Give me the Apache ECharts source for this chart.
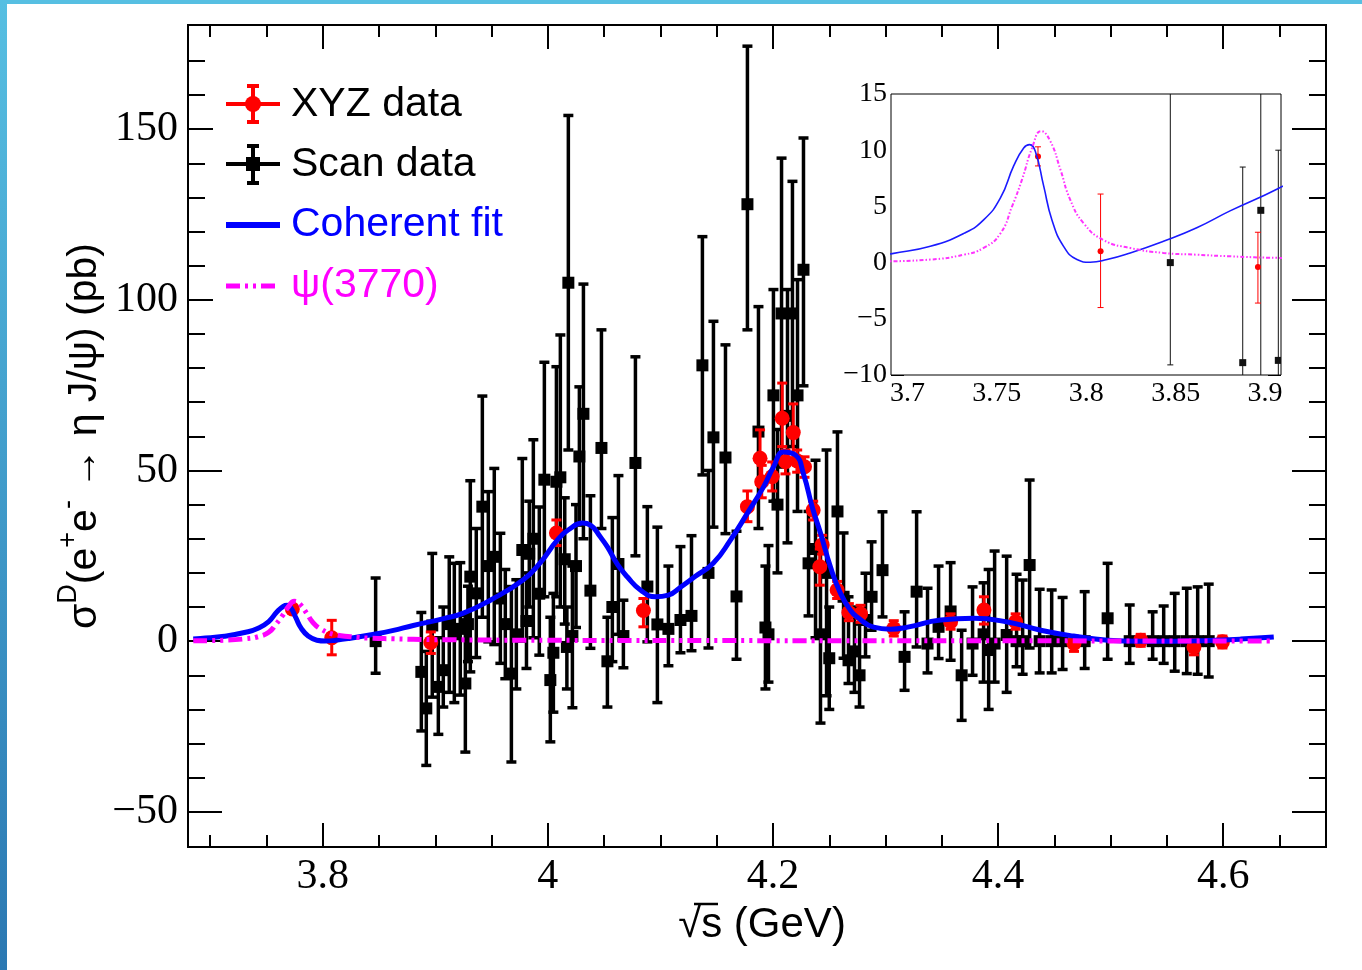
<!DOCTYPE html>
<html><head><meta charset="utf-8">
<script src="https://cdn.jsdelivr.net/npm/echarts@6/dist/echarts.min.js"></script>
<style>html,body{margin:0;padding:0;background:#fff;}#c{width:1362px;height:970px;}</style>
</head><body><div id="c"></div>
<script>
// ---------- data ----------
const xTickMain = [3.8, 4.0, 4.2, 4.4, 4.6];
const xMinorMain = [3.7, 3.75, 3.85, 3.9, 3.95, 4.05, 4.1, 4.15, 4.25, 4.3, 4.35, 4.45, 4.5, 4.55, 4.65];
const yTickMain = [-50, 0, 50, 100, 150];
const yMinorMain = [-40, -30, -20, -10, 10, 20, 30, 40, 60, 70, 80, 90, 110, 120, 130, 140, 160, 170];
const xTickInset = [3.7, 3.75, 3.8, 3.85, 3.9];
const xMinorInset = [3.71, 3.72, 3.73, 3.74, 3.76, 3.77, 3.78, 3.79, 3.81, 3.82, 3.83, 3.84, 3.86, 3.87, 3.88, 3.89];
const yTickInset = [-10, -5, 0, 5, 10, 15];
const yMinorInset = [-9, -8, -7, -6, -4, -3, -2, -1, 1, 2, 3, 4, 6, 7, 8, 9, 11, 12, 13, 14];

// XYZ data (red)
const xyzE = [3.773, 3.808, 3.896, 4.0076, 4.0849, 4.1773, 4.1885, 4.1900, 4.1993, 4.2082,
  4.2111, 4.2180, 4.2215, 4.2280, 4.2357, 4.2416, 4.2437, 4.2570, 4.2674, 4.2778,
  4.3073, 4.3578, 4.3874, 4.4156, 4.4674, 4.5267, 4.5740, 4.5993];
const xyzSigma = [9.4, 1.0, -0.4, 31.7, 9.0, 39.4, 53.6, 46.7, 48.2, 65.3,
  52.6, 61.1, 52.8, 51.1, 38.4, 21.8, 28.2, 15.0, 8.4, 8.0,
  3.7, 5.7, 9.1, 5.7, -0.7, 0.3, -1.7, -0.2];
const xyzLow = [8.5, -4.0, -3.6, 28.0, 4.2, 35.0, 46.0, 42.0, 44.0, 57.0,
  49.0, 53.0, 49.5, 48.0, 35.5, 16.4, 25.5, 12.5, 6.0, 5.5,
  1.5, 3.5, 5.0, 3.5, -3.0, -1.5, -4.0, -2.0];
const xyzHigh = [10.3, 6.1, 2.7, 35.5, 12.5, 44.0, 61.9, 51.5, 52.5, 75.6,
  56.0, 69.5, 56.0, 54.0, 41.0, 27.0, 31.0, 17.5, 11.0, 10.5,
  6.0, 8.0, 13.0, 8.0, 1.5, 2.0, 0.5, 1.5];

// Scan data (black)
const scanE = [3.847, 3.8876, 3.892, 3.8973, 3.9027, 3.9071, 3.9124, 3.9169, 3.9222, 3.9267,
  3.929, 3.9311, 3.9364, 3.9418, 3.9471, 3.9524, 3.9578, 3.9622, 3.9676, 3.972,
  3.9773, 3.981, 3.9835, 3.9871, 3.9924, 3.9969, 4.0022, 4.0049, 4.0076, 4.0111,
  4.015, 4.0169, 4.0182, 4.0218, 4.025, 4.028, 4.0316, 4.0378, 4.0476, 4.0529,
  4.0573, 4.0627, 4.0671, 4.0778, 4.0884, 4.0973, 4.1071, 4.1178, 4.1276, 4.1373,
  4.1427, 4.1471, 4.1578, 4.1676, 4.1773, 4.1871, 4.1933, 4.196, 4.2004, 4.204,
  4.2076, 4.2129, 4.2173, 4.2218, 4.2271, 4.2316, 4.2378, 4.2422, 4.2476, 4.25,
  4.2573, 4.2627, 4.2671, 4.2724, 4.2769, 4.2822, 4.2876, 4.2973, 4.3169, 4.3276,
  4.3373, 4.3471, 4.3578, 4.3676, 4.3773, 4.3871, 4.3916, 4.3969, 4.4076, 4.4164,
  4.4218, 4.428, 4.4369, 4.4476, 4.4573, 4.4769, 4.4973, 4.5169, 4.5373, 4.5471,
  4.5569, 4.5676, 4.5773, 4.5871];
const scanSigma = [0.0, -9.0, -19.7, 4.6, -13.4, -8.5, 5.0, 2.0, 3.6, -12.4,
  5.0, 18.9, 14.0, 39.4, 22.0, 24.7, 12.5, 5.0, -9.5, 2.0,
  26.7, 5.9, 25.6, 30.0, 13.9, 47.3, -11.4, -3.4, 46.7, 48.0,
  24.0, -1.7, 105.0, 1.5, 22.0, 54.1, 66.6, 14.8, 56.6, -5.9,
  10.0, 22.6, 1.5, 52.2, 16.0, 4.9, 3.6, 6.2, 7.4, 80.8,
  20.0, 59.7, 53.8, 13.1, 128.0, 61.4, 4.0, 2.0, 72.0, 40.0,
  96.0, 66.0, 96.0, 72.0, 108.8, 22.8, 27.0, 2.0, 20.0, -5.0,
  38.0, 13.0, -5.6, -3.0, -10.0, 6.2, 13.0, 20.8, -4.6, 14.5,
  -0.7, 4.2, 8.7, -10.0, -0.7, 2.0, -2.6, -0.7, 1.8, 0.0,
  0.0, 22.3, 0.0, 0.0, 0.0, 0.0, 6.7, 0.0, 0.0, 0.0,
  0.0, 0.0, 0.0, 0.0];
const scanLow = [-9.4, -26.3, -36.4, -16.4, -27.3, -19.3, -15.0, -18.0, -15.8, -32.5,
  -6.0, -9.0, -4.8, 7.0, -0.2, -1.0, -6.5, -11.0, -35.4, -14.0,
  0.0, -8.0, 10.0, 1.0, -4.1, 13.0, -29.5, -20.8, 13.0, 10.0,
  5.0, -14.0, 56.0, -19.5, 4.0, 34.0, 30.0, -2.1, 33.0, -19.3,
  -6.0, 2.0, -7.8, 25.0, -0.2, -18.0, -7.2, -3.4, -2.8, 48.7,
  -2.0, 33.4, 31.5, -5.3, 91.2, 33.0, -14.0, -12.0, 41.0, 20.0,
  51.0, 28.8, 57.0, 38.0, 74.8, 7.4, 1.0, -24.0, -16.0, -20.0,
  15.0, -5.0, -12.4, -15.0, -19.3, -4.6, 3.2, 7.1, -14.4, -1.7,
  -9.3, -5.1, -5.6, -23.2, -10.0, -12.0, -20.0, -12.0, -15.0, -7.5,
  -9.7, -2.0, -9.3, -9.3, -8.3, -8.0, -5.3, -6.5, -5.3, -6.5,
  -8.8, -9.5, -9.7, -10.5];
const scanHigh = [18.5, 8.4, -3.0, 25.7, 1.0, 10.0, 24.7, 22.8, 23.0, 7.5,
  16.1, 47.0, 33.0, 71.8, 43.8, 50.6, 31.6, 21.0, 16.0, 18.0,
  53.5, 20.0, 41.0, 59.0, 39.3, 81.7, 7.0, 14.0, 80.4, 89.7,
  42.0, 10.0, 154.0, 22.0, 40.0, 74.5, 104.6, 42.6, 91.2, 7.0,
  36.2, 48.5, 12.0, 83.3, 39.4, 33.4, 22.0, 27.7, 30.9, 118.5,
  50.0, 93.7, 86.8, 32.2, 174.3, 98.0, 22.0, 28.0, 103.0, 62.0,
  141.5, 103.0, 134.7, 105.9, 147.4, 38.0, 53.0, 28.0, 56.0, 10.0,
  61.3, 31.7, 13.0, 10.0, 5.0, 19.9, 29.1, 37.9, 8.6, 37.9,
  15.5, 22.0, 23.0, 3.2, 15.9, 17.1, 21.0, 26.4, 24.9, 19.6,
  17.9, 47.2, 15.2, 15.0, 12.8, 14.5, 22.8, 10.6, 8.6, 10.3,
  14.0, 15.5, 15.9, 16.7];

// Coherent fit (blue)
const fitE = [3.685, 3.6915, 3.7128, 3.7315, 3.7426, 3.752, 3.7594, 3.765, 3.7683, 3.7715, 3.7762,
  3.7808, 3.7873, 3.7948, 3.8022, 3.8116, 3.8246, 3.8432, 3.8618, 3.8804, 3.9074,
  3.925, 3.9489, 3.9782, 3.9933, 4.0084, 4.02, 4.0307, 4.0378, 4.0467, 4.0529,
  4.0618, 4.0707, 4.0822, 4.0956, 4.1071, 4.1178, 4.1311, 4.1471, 4.1622, 4.1773,
  4.1916, 4.2004, 4.2093, 4.22, 4.2271, 4.2351, 4.2422, 4.2511, 4.26, 4.2689,
  4.2751, 4.2893, 4.3044, 4.3196, 4.3489, 4.3782, 4.4084, 4.4378, 4.4671, 4.4973,
  4.5267, 4.556, 4.5862, 4.6156, 4.6449];
const fitSigma = [0.6, 0.8, 1.45, 2.6, 3.8, 5.75, 8.6, 10.2, 10.5, 9.9, 6.8,
  3.8, 1.45, 0.27, 0.03, 0.27, 0.86, 1.9, 3.1, 4.6, 6.6,
  8.2, 12.0, 18.0, 23.0, 29.6, 33.0, 34.6, 34.0, 30.5, 27.6,
  22.5, 18.8, 15.0, 13.0, 13.5, 15.8, 19.0, 22.9, 29.6, 37.5,
  45.2, 51.0, 55.4, 54.5, 49.0, 39.0, 31.7, 21.7, 14.0, 9.0,
  7.0, 4.1, 3.5, 4.1, 6.2, 6.7, 5.6, 3.2, 1.5, 0.3,
  0.0, 0.0, 0.2, 0.6, 1.2];

// psi(3770) (magenta)
const psiE = [3.685, 3.7128, 3.7315, 3.7426, 3.752, 3.7585, 3.7641, 3.7697, 3.7747, 3.7799,
  3.7855, 3.791, 3.7985, 3.8097, 3.8246, 3.8432, 3.8618, 3.8804, 3.9074, 4.0,
  4.2, 4.4, 4.6449];
const psiSigma = [0.1, 0.27, 0.7, 1.3, 2.6, 5.0, 7.4, 10.2, 11.7, 10.8,
  8.3, 5.6, 3.5, 2.0, 1.3, 0.86, 0.7, 0.56, 0.42, 0.25,
  0.15, 0.1, 0.05];

// Inset points
const insetXyzE = [3.773, 3.808, 3.896];
const insetXyzSigma = [9.45, 1.0, -0.4];
const insetXyzLow = [8.6, -4.0, -3.6];
const insetXyzHigh = [10.3, 6.1, 2.7];
const insetScanE = [3.847, 3.8875, 3.8976, 3.9074];
const insetScanSigma = [0.0, -8.9, 4.65, -8.7];
const insetScanLow = [-9.1, -26.3, -16.4, -27.4];
const insetScanHigh = [18.5, 8.5, 25.7, 10.0];

// ---------- build ----------
const SERIF = '"Liberation Serif", "Times New Roman", serif';
const SANS = '"Liberation Sans", Arial, Helvetica, sans-serif';
const zip4 = (a, b, c, d) => a.map((v, i) => [v, b[i], c[i], d[i]]);
const zip2 = (a, b) => a.map((v, i) => [v, b[i]]);
const fmt = v => { const r = Math.round(v * 1000) / 1000; return r < 0 ? '\u2212' + String(-r) : String(r); };

function axis(grid, pos, min, max, vals, len, w, label) {
  return {
    type: 'value', gridIndex: grid, position: pos, min: min, max: max, scale: true,
    axisLine: { show: false, onZero: false },
    splitLine: { show: false },
    axisTick: { show: true, inside: true, length: len, customValues: vals, lineStyle: { color: '#000', width: w } },
    axisLabel: label ? Object.assign({ show: true, customValues: vals, formatter: fmt, color: '#000', fontFamily: SERIF }, label) : { show: false }
  };
}
const XMIN = 3.6803, XMAX = 4.6913, YMIN = -60.3, YMAX = 180.5;
const IXMIN = 3.6908, IXMAX = 3.9089, IYMIN = -10, IYMAX = 15;

const xAxes = [
  axis(0, 'bottom', XMIN, XMAX, xTickMain, 24, 2, { fontSize: 42, margin: 9 }),
  axis(0, 'bottom', XMIN, XMAX, xMinorMain, 12, 2),
  axis(0, 'top', XMIN, XMAX, xTickMain, 24, 2),
  axis(0, 'top', XMIN, XMAX, xMinorMain, 12, 2),
  axis(1, 'bottom', IXMIN, IXMAX, xTickInset, 12, 1, { fontSize: 28, margin: 5 }),
  axis(1, 'bottom', IXMIN, IXMAX, xMinorInset, 6, 1),
  axis(1, 'top', IXMIN, IXMAX, xTickInset, 12, 1),
  axis(1, 'top', IXMIN, IXMAX, xMinorInset, 6, 1)
];
const yAxes = [
  axis(0, 'left', YMIN, YMAX, yTickMain, 34, 2, { fontSize: 42, margin: 10 }),
  axis(0, 'left', YMIN, YMAX, yMinorMain, 17, 2),
  axis(0, 'right', YMIN, YMAX, yTickMain, 34, 2),
  axis(0, 'right', YMIN, YMAX, yMinorMain, 17, 2),
  axis(1, 'left', IYMIN, IYMAX, yTickInset, 13, 1, { fontSize: 28, margin: 4 }),
  axis(1, 'left', IYMIN, IYMAX, yMinorInset, 7, 1),
  axis(1, 'right', IYMIN, IYMAX, yTickInset, 13, 1),
  axis(1, 'right', IYMIN, IYMAX, yMinorInset, 7, 1)
];

function errItem(s) {
  return function (params, api) {
    const x = api.value(0), y = api.value(1), lo = api.value(2), hi = api.value(3);
    const c = api.coord([x, y]), cl = api.coord([x, lo]), ch = api.coord([x, hi]);
    const st = { stroke: s.color, lineWidth: s.lw };
    const ch2 = [
      { type: 'line', shape: { x1: c[0], y1: cl[1], x2: c[0], y2: ch[1] }, style: st },
      { type: 'line', shape: { x1: c[0] - s.cap, y1: cl[1], x2: c[0] + s.cap, y2: cl[1] }, style: st },
      { type: 'line', shape: { x1: c[0] - s.cap, y1: ch[1], x2: c[0] + s.cap, y2: ch[1] }, style: st }
    ];
    if (s.marker === 'circle') ch2.push({ type: 'circle', shape: { cx: c[0], cy: c[1], r: s.size }, style: { fill: s.color } });
    else ch2.push({ type: 'rect', shape: { x: c[0] - s.size, y: c[1] - s.size, width: 2 * s.size, height: 2 * s.size }, style: { fill: s.color } });
    return { type: 'group', children: ch2 };
  };
}

const series = [
  { type: 'custom', xAxisIndex: 0, yAxisIndex: 0, clip: true, z: 2, silent: true,
    renderItem: errItem({ color: '#000', lw: 3.5, cap: 5, marker: 'rect', size: 6 }),
    encode: { x: 0, y: 1 }, data: zip4(scanE, scanSigma, scanLow, scanHigh) },
  { type: 'custom', xAxisIndex: 0, yAxisIndex: 0, clip: true, z: 3, silent: true,
    renderItem: errItem({ color: '#ff0000', lw: 3, cap: 5, marker: 'circle', size: 7.5 }),
    encode: { x: 0, y: 1 }, data: zip4(xyzE, xyzSigma, xyzLow, xyzHigh) },
  { type: 'line', xAxisIndex: 0, yAxisIndex: 0, z: 4, clip: true, silent: true, symbol: 'none',
    smooth: 0.5, data: zip2(fitE, fitSigma),
    lineStyle: { color: '#0000ff', width: 5 } },
  { type: 'line', xAxisIndex: 0, yAxisIndex: 0, z: 5, clip: true, silent: true, symbol: 'none',
    smooth: 0.5, data: zip2(psiE, psiSigma),
    lineStyle: { color: '#ff00ff', width: 5, type: [14, 5, 3, 5, 3, 5], cap: 'butt' } },
  // inset
  { type: 'custom', xAxisIndex: 4, yAxisIndex: 4, clip: true, z: 6, silent: true,
    renderItem: errItem({ color: '#111', lw: 1, cap: 3, marker: 'rect', size: 3.5 }),
    encode: { x: 0, y: 1 }, data: zip4(insetScanE, insetScanSigma, insetScanLow, insetScanHigh) },
  { type: 'custom', xAxisIndex: 4, yAxisIndex: 4, clip: true, z: 7, silent: true,
    renderItem: errItem({ color: '#ff0000', lw: 1, cap: 3, marker: 'circle', size: 3 }),
    encode: { x: 0, y: 1 }, data: zip4(insetXyzE, insetXyzSigma, insetXyzLow, insetXyzHigh) },
  { type: 'line', xAxisIndex: 4, yAxisIndex: 4, z: 8, clip: true, silent: true, symbol: 'none',
    smooth: 0.5, data: zip2(fitE, fitSigma),
    lineStyle: { color: '#1a1aff', width: 1.6 } },
  { type: 'line', xAxisIndex: 4, yAxisIndex: 4, z: 9, clip: true, silent: true, symbol: 'none',
    smooth: 0.5, data: zip2(psiE, psiSigma),
    lineStyle: { color: '#ff33ff', width: 2, type: [4, 2, 1.5, 2, 1.5, 2], cap: 'butt' } }
];

const L = 226, R = 280, MX = 253;
const blk = '#000', red = '#ff0000';
const graphics = [
  // page decoration
  { type: 'rect', shape: { x: 0, y: 0, width: 7, height: 970 }, style: { fill: { type: 'linear', x: 0, y: 0, x2: 0, y2: 1, colorStops: [{ offset: 0, color: '#56bfe2' }, { offset: 1, color: '#2b78b2' }] } }, z: 200 },
  { type: 'rect', shape: { x: 0, y: 0, width: 1362, height: 4 }, style: { fill: '#56bfe2' }, z: 200 },
  // legend box (white, covers ticks like ROOT's legend)
  { type: 'rect', shape: { x: 213, y: 60, width: 300, height: 255 }, style: { fill: '#fff' }, z: 100 },
  // XYZ
  { type: 'line', shape: { x1: L, y1: 104, x2: R, y2: 104 }, style: { stroke: red, lineWidth: 4 }, z: 101 },
  { type: 'line', shape: { x1: MX, y1: 85, x2: MX, y2: 123 }, style: { stroke: red, lineWidth: 4 }, z: 101 },
  { type: 'line', shape: { x1: MX - 6, y1: 86, x2: MX + 6, y2: 86 }, style: { stroke: red, lineWidth: 4 }, z: 101 },
  { type: 'line', shape: { x1: MX - 6, y1: 122, x2: MX + 6, y2: 122 }, style: { stroke: red, lineWidth: 4 }, z: 101 },
  { type: 'circle', shape: { cx: MX, cy: 104, r: 8 }, style: { fill: red }, z: 101 },
  { type: 'text', x: 291, y: 105, style: { text: 'XYZ data', fontSize: 41, fontFamily: SANS, fill: blk, verticalAlign: 'middle', align: 'left' }, z: 102 },
  // Scan
  { type: 'line', shape: { x1: L, y1: 164, x2: R, y2: 164 }, style: { stroke: blk, lineWidth: 4 }, z: 101 },
  { type: 'line', shape: { x1: MX, y1: 145, x2: MX, y2: 184 }, style: { stroke: blk, lineWidth: 4 }, z: 101 },
  { type: 'line', shape: { x1: MX - 6, y1: 146, x2: MX + 6, y2: 146 }, style: { stroke: blk, lineWidth: 4 }, z: 101 },
  { type: 'line', shape: { x1: MX - 6, y1: 183, x2: MX + 6, y2: 183 }, style: { stroke: blk, lineWidth: 4 }, z: 101 },
  { type: 'rect', shape: { x: MX - 7, y: 157, width: 14, height: 14 }, style: { fill: blk }, z: 101 },
  { type: 'text', x: 291, y: 165, style: { text: 'Scan data', fontSize: 41, fontFamily: SANS, fill: blk, verticalAlign: 'middle', align: 'left' }, z: 102 },
  // Coherent fit
  { type: 'line', shape: { x1: L, y1: 225, x2: R, y2: 225 }, style: { stroke: '#0000ff', lineWidth: 6 }, z: 101 },
  { type: 'text', x: 291, y: 225, style: { text: 'Coherent fit', fontSize: 41, fontFamily: SANS, fill: '#0000ff', verticalAlign: 'middle', align: 'left' }, z: 102 },
  // psi
  { type: 'line', shape: { x1: L, y1: 286, x2: R, y2: 286 }, style: { stroke: '#ff00ff', lineWidth: 5, lineDash: [14, 5, 3, 5, 3, 5] }, z: 101 },
  { type: 'text', x: 291, y: 286, style: { text: '\u03c8(3770)', fontSize: 41, fontFamily: SANS, fill: '#ff00ff', verticalAlign: 'middle', align: 'left' }, z: 102 },
  // axis titles
  { type: 'text', x: 80, y: 436, rotation: Math.PI / 2, z: 102,
    style: { text: '{n|\u03c3}{s|D}{n|(e}{s|+}{n|e}{s|-}{n| \u2192 \u03b7 J/\u03c8) (pb)}', align: 'center', verticalAlign: 'middle', fill: blk,
      rich: { n: { fontSize: 41, fontFamily: SANS, lineHeight: 50, verticalAlign: 'bottom', fill: blk },
               s: { fontSize: 27, fontFamily: SANS, lineHeight: 27, verticalAlign: 'top', fill: blk } } } },
  { type: 'text', x: 762, y: 925, z: 102,
    style: { text: '\u221as (GeV)', fontSize: 42, fontFamily: SANS, fill: blk, align: 'center', verticalAlign: 'middle' } },
  { type: 'line', shape: { x1: 694, y1: 904, x2: 718, y2: 904 }, style: { stroke: blk, lineWidth: 2.5 }, z: 102 }
];

const chart = echarts.init(document.getElementById('c'), null, { renderer: 'canvas' });
chart.setOption({
  animation: false,
  backgroundColor: '#fff',
  grid: [
    { left: 188, top: 25, width: 1138, height: 822, show: true, borderColor: '#000', borderWidth: 2, backgroundColor: 'rgba(0,0,0,0)', containLabel: false },
    { left: 891, top: 94, width: 390, height: 281, show: true, borderColor: '#000', borderWidth: 1, backgroundColor: '#fff', containLabel: false, z: 1 }
  ],
  xAxis: xAxes,
  yAxis: yAxes,
  series: series,
  graphic: { elements: graphics }
});
</script></body></html>
